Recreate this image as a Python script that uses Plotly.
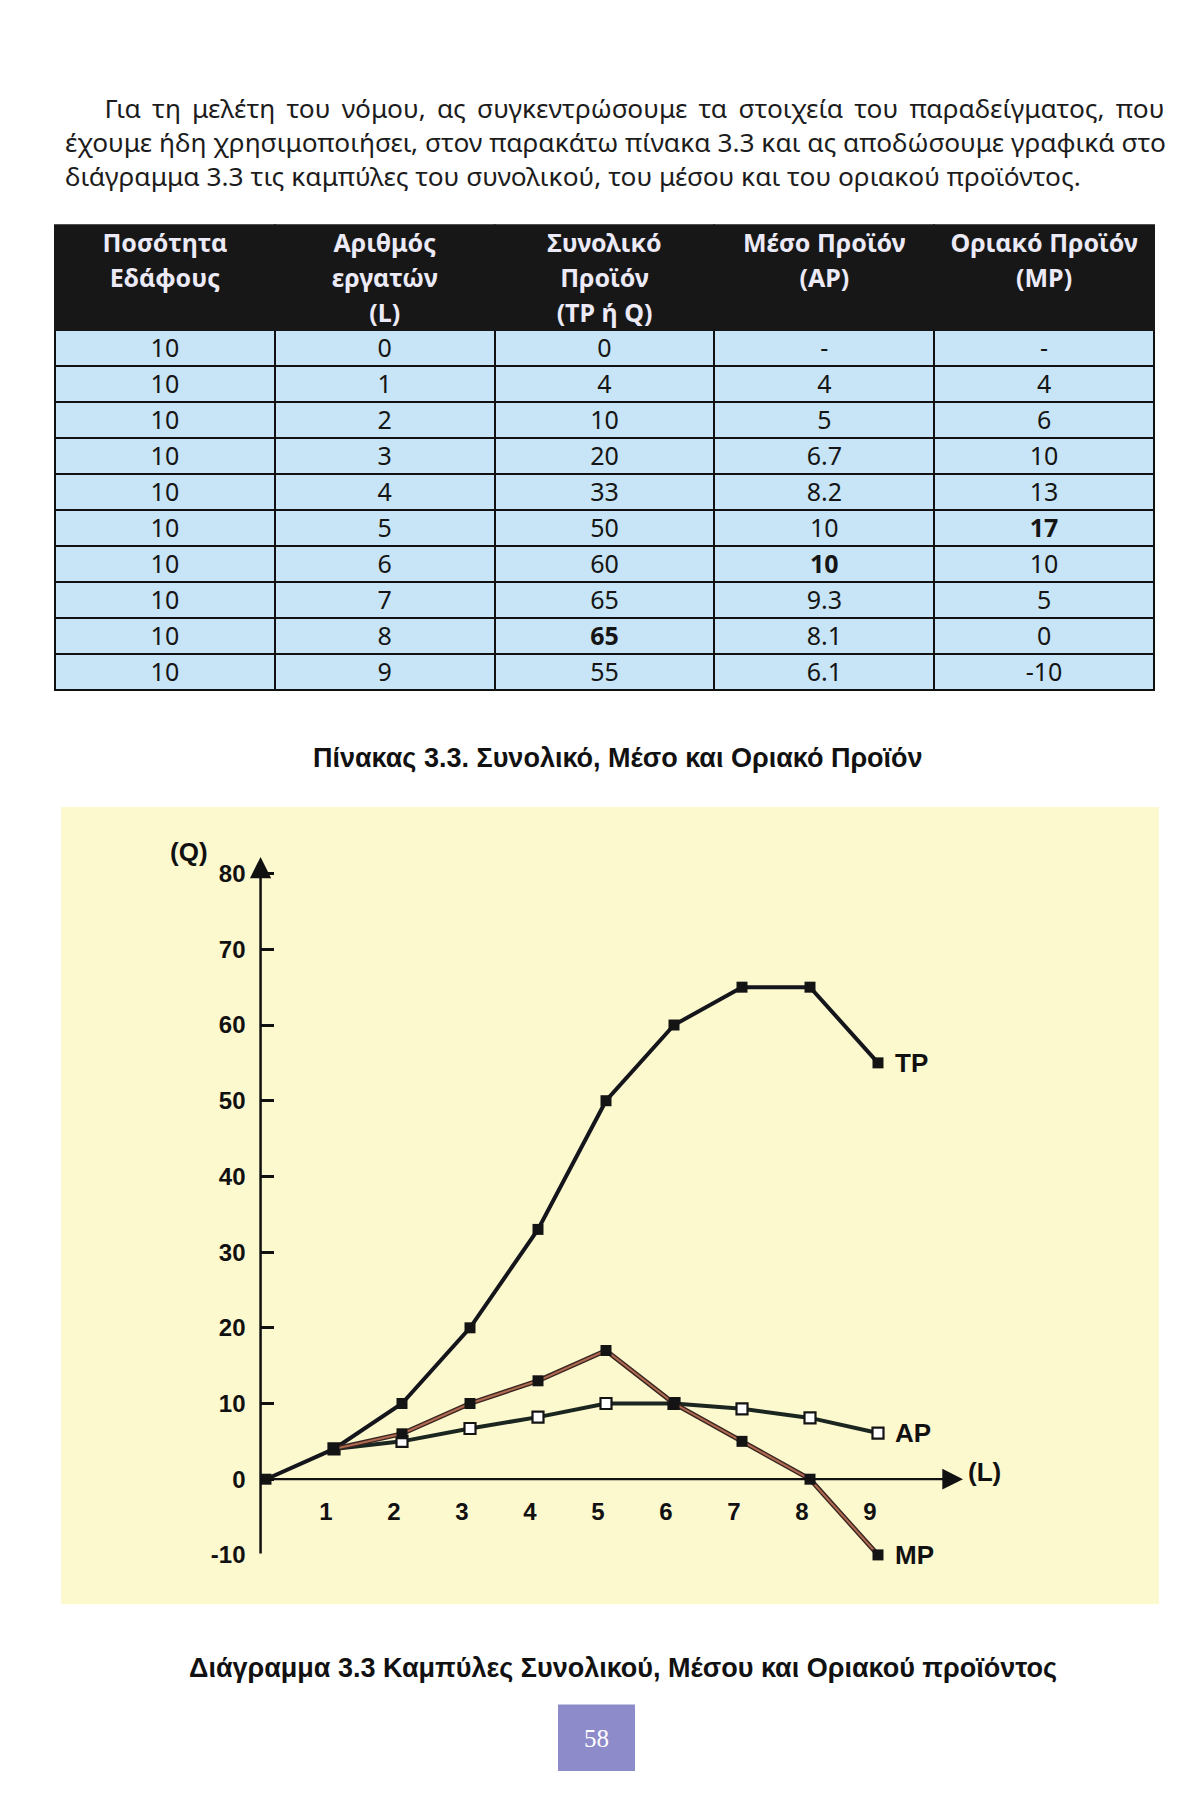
import plotly.graph_objects as go

W, H = 1203, 1795

# ---------------- data ----------------
land = [10, 10, 10, 10, 10, 10, 10, 10, 10, 10]
labour = [0, 1, 2, 3, 4, 5, 6, 7, 8, 9]
tp = [0, 4, 10, 20, 33, 50, 60, 65, 65, 55]
ap = [None, 4, 5, 6.7, 8.2, 10, 10, 9.3, 8.1, 6.1]
mp = [None, 4, 6, 10, 13, 17, 10, 5, 0, -10]
bold_tp = [8]
bold_ap = [6]
bold_mp = [5]

header_lines = [
    ["Ποσότητα", "Εδάφους", ""],
    ["Αριθμός", "εργατών", "(L)"],
    ["Συνολικό", "Προϊόν", "(TP ή Q)"],
    ["Μέσο Προϊόν", "(AP)", ""],
    ["Οριακό Προϊόν", "(MP)", ""],
]
x_ticks = [1, 2, 3, 4, 5, 6, 7, 8, 9]
y_ticks = [-10, 0, 10, 20, 30, 40, 50, 60, 70, 80]

paragraph = [
    "Για τη μελέτη του νόμου, ας συγκεντρώσουμε τα στοιχεία του παραδείγματος, που",
    "έχουμε ήδη χρησιμοποιήσει, στον παρακάτω πίνακα 3.3 και ας αποδώσουμε γραφικά στο",
    "διάγραμμα 3.3 τις καμπύλες του συνολικού, του μέσου και του οριακού προϊόντος.",
]
table_caption = "Πίνακας 3.3. Συνολικό, Μέσο και Οριακό Προϊόν"
chart_caption = "Διάγραμμα 3.3 Καμπύλες Συνολικού, Μέσου και Οριακού προϊόντος"
page_number = "58"


def px(x):
    return x / W


def py(y):
    return 1 - y / H


def fmt(col):
    return ["-" if v is None else f"{v:g}" for v in col]


def weights(n, bold_idx):
    return [700 if i in bold_idx else 400 for i in range(n)]


TEXT_FONT = "Noto Sans, Open Sans, DejaVu Sans, sans-serif"
CHART_FONT = "Liberation Sans, Arial, Helvetica, sans-serif"

fig = go.Figure()

# ---------------- table ----------------
n = len(labour)
fig.add_trace(go.Table(
    domain=dict(x=[px(55), px(1154)], y=[py(702), py(227)]),
    columnwidth=[1, 1, 1, 1, 1],
    header=dict(
        values=header_lines,
        fill_color="#171717",
        font=dict(color="#ECEAF6", size=25, family=TEXT_FONT, weight=700),
        align="center",
        height=35,
        line=dict(color="#171717", width=2),
    ),
    cells=dict(
        values=[
            [f"{v:g}" for v in land],
            [f"{v:g}" for v in labour],
            fmt(tp),
            fmt(ap),
            fmt(mp),
        ],
        fill_color="#C7E5F7",
        font=dict(color="#151515", size=25, family=TEXT_FONT),
        align="center",
        height=36,
        line=dict(color="#111111", width=2),
    ),
))
# per-cell weights (column-major grid) — plotly.js picks these cell by cell
fig._data[0]["cells"]["font"]["weight"] = [
    weights(n, []), weights(n, []), weights(n, bold_tp),
    weights(n, bold_ap), weights(n, bold_mp),
]

# ---------------- chart ----------------
X0PIX, PPUX = 266.0, 68.0
Y0PIX, PPUY = 1490.0, 7.625
XMIN, XMAX = -0.08, 11.0
YMIN, YMAX = -10.0, 83.0

dom_x = [px(X0PIX + XMIN * PPUX), px(X0PIX + XMAX * PPUX)]
dom_y = [py(Y0PIX - YMIN * PPUY), py(Y0PIX - YMAX * PPUY)]

fig.add_trace(go.Scatter(
    x=labour, y=tp, mode="lines+markers", cliponaxis=False,
    line=dict(color="#15161c", width=4),
    marker=dict(symbol="square", size=11, color="#141414"),
    showlegend=False, hoverinfo="skip",
))
fig.add_trace(go.Scatter(
    x=labour, y=ap, mode="lines+markers", cliponaxis=False,
    line=dict(color="#1b2620", width=4),
    marker=dict(symbol="square", size=11, color="#FFFFFF",
                line=dict(color="#141414", width=2.2)),
    showlegend=False, hoverinfo="skip",
))
fig.add_trace(go.Scatter(
    x=labour, y=mp, mode="lines", cliponaxis=False,
    line=dict(color="#3a2620", width=4.8),
    showlegend=False, hoverinfo="skip",
))
fig.add_trace(go.Scatter(
    x=labour, y=mp, mode="lines+markers", cliponaxis=False,
    line=dict(color="#b06a52", width=2),
    marker=dict(symbol="square", size=11, color="#141414"),
    showlegend=False, hoverinfo="skip",
))

annotations = []
# axes arrows
annotations.append(dict(x=XMIN, y=82.2, ax=XMIN, ay=YMIN, xref="x", yref="y",
                        axref="x", ayref="y", text="", showarrow=True,
                        arrowhead=2, arrowsize=1.7, arrowwidth=2.5, arrowcolor="#111111"))
annotations.append(dict(x=10.25, y=0, ax=XMIN, ay=0, xref="x", yref="y",
                        axref="x", ayref="y", text="", showarrow=True,
                        arrowhead=2, arrowsize=1.8, arrowwidth=2.3, arrowcolor="#111111"))
tick_font = dict(family=CHART_FONT, size=24, color="#111111", weight="bold")
label_font = dict(family=CHART_FONT, size=26, color="#111111", weight="bold")
annotations.append(dict(x=px(189), y=py(858), xref="paper", yref="paper",
                        xanchor="center", yanchor="middle",
                        text="(Q)", showarrow=False, font=label_font))
annotations.append(dict(x=10.25, y=0, xref="x", yref="y", xanchor="left", yanchor="middle",
                        xshift=3, yshift=7, text="(L)", showarrow=False, font=label_font))
for name, series in (("TP", tp), ("AP", ap), ("MP", mp)):
    annotations.append(dict(x=labour[-1], y=series[-1], xref="x", yref="y",
                            xanchor="left", yanchor="middle", xshift=15, text=name,
                            showarrow=False, font=label_font))

# page paragraph (em+en space indent; thin spaces widen line 1 to mimic justification)
para_text = ("\u2003\u2002" + paragraph[0].replace(" ", " \u2009")
             + "<br>" + paragraph[1] + "<br>" + paragraph[2])
annotations.append(dict(x=px(63), y=py(143), xref="paper", yref="paper",
                        xanchor="left", yanchor="middle", align="left",
                        text=para_text, showarrow=False,
                        font=dict(family=TEXT_FONT, size=26.3, color="#1c1c1c")))
annotations.append(dict(x=px(618), y=py(764), xref="paper", yref="paper",
                        xanchor="center", yanchor="middle",
                        text=f"<b>{table_caption}</b>", showarrow=False,
                        font=dict(family=CHART_FONT, size=27, color="#111111")))
annotations.append(dict(x=px(623), y=py(1680), xref="paper", yref="paper",
                        xanchor="center", yanchor="middle",
                        text=f"<b>{chart_caption}</b>", showarrow=False,
                        font=dict(family=CHART_FONT, size=27, color="#111111")))
annotations.append(dict(x=px(596.5), y=py(1751), xref="paper", yref="paper",
                        xanchor="center", yanchor="middle",
                        text=page_number, showarrow=False,
                        font=dict(family="Liberation Serif, Times New Roman, serif",
                                  size=25, color="#FFFFFF")))

shapes = [
    dict(type="rect", xref="paper", yref="paper", x0=px(61), x1=px(1159),
         y0=py(1616), y1=py(813), fillcolor="#FDF9CF", line=dict(width=0), layer="below"),
    dict(type="rect", xref="paper", yref="paper", x0=px(558), x1=px(635),
         y0=py(1784), y1=py(1717), fillcolor="#8E8BCB", line=dict(width=0), layer="below"),
]

fig.update_layout(
    width=W, height=H,
    margin=dict(l=0, r=0, t=0, b=0),
    paper_bgcolor="#FFFFFF",
    plot_bgcolor="rgba(0,0,0,0)",
    showlegend=False,
    xaxis=dict(
        domain=dom_x, range=[XMIN, XMAX], anchor="free", position=py(Y0PIX),
        showgrid=False, zeroline=False, showline=False,
        tickmode="array", tickvals=x_ticks, ticktext=[str(v) for v in x_ticks],
        ticks="", ticklabelstandoff=16, ticklabelshift=-8,
        tickfont=tick_font, fixedrange=True,
    ),
    yaxis=dict(
        domain=dom_y, range=[YMIN, YMAX], anchor="x",
        showgrid=False, zeroline=False, showline=False,
        tickmode="array", tickvals=y_ticks, ticktext=[str(v) for v in y_ticks],
        ticks="inside", ticklen=13, tickwidth=2.5, tickcolor="#111111",
        ticklabelstandoff=14,
        tickfont=tick_font, fixedrange=True,
    ),
    annotations=annotations,
    shapes=shapes,
)

fig.write_html("out.html")
